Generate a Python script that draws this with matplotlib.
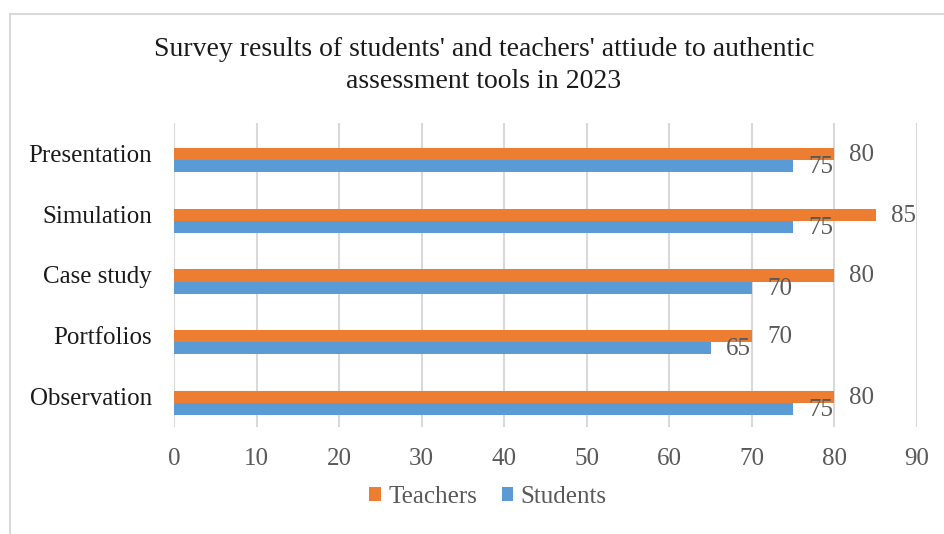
import matplotlib
matplotlib.use("Agg")
import matplotlib.pyplot as plt
import numpy as np
from matplotlib.patches import Rectangle

# data, listed bottom to top as in the chart
categories = ["Observation", "Portfolios", "Case study", "Simulation", "Presentation"]
teachers = [80, 70, 80, 85, 80]
students = [75, 65, 70, 75, 75]
x_ticks = [0, 10, 20, 30, 40, 50, 60, 70, 80, 90]

ORANGE = "#ED7D31"
BLUE = "#5B9BD5"
GREY_TXT = "#595959"
GRID = "#D9D9D9"

plt.rcParams["font.family"] = ["Liberation Serif", "DejaVu Serif"]

W, H = 944, 534
fig = plt.figure(figsize=(W / 100, H / 100), dpi=100)

# chart frame (runs off the right and bottom edges like the source)
fig.patches.append(Rectangle((10 / W, -0.2), 1.2, 1.2 - 14 / H, transform=fig.transFigure,
                             fill=False, edgecolor=GRID, linewidth=1.5))

ax = fig.add_axes([174 / W, 1 - 427 / H, (917 - 174) / W, (427 - 123) / H])

y = np.arange(len(categories))
bh = 0.2
shift = -0.107  # bars sit a bit below the category centre in the source
ax.barh(y + shift + bh / 2, teachers, height=bh, color=ORANGE, label="Teachers", zorder=3)
ax.barh(y + shift - bh / 2, students, height=bh, color=BLUE, label="Students", zorder=3)

for yi, v in zip(y, teachers):
    ax.annotate(str(v), (v, yi + shift + bh / 2), xytext=(15, -1), textcoords="offset pixels",
                ha="left", va="center", fontsize=18, color=GREY_TXT)
for yi, v in zip(y, students):
    ax.annotate(str(v), (v, yi + shift - bh / 2), xytext=(15, -1), textcoords="offset pixels",
                ha="left", va="center", fontsize=18, color=GREY_TXT)

ax.set_xlim(0, 90)
ax.set_ylim(-0.5, len(categories) - 0.5)
ax.set_xticks(x_ticks)
ax.set_yticks(y)
ax.set_yticklabels(categories)
ax.tick_params(axis="x", length=0, pad=15, labelsize=18, labelcolor=GREY_TXT)
ax.tick_params(axis="y", length=0, pad=16, labelsize=18, labelcolor="#1a1a1a")
ax.grid(axis="x", color=GRID, linewidth=1.5, zorder=0)
for s in ax.spines.values():
    s.set_visible(False)

fig.text(484 / W, 1 - 49 / H, "Survey results of students' and teachers' attiude to authentic",
         ha="center", va="center", fontsize=20, color="#1a1a1a")
fig.text(484 / W, 1 - 82 / H, "assessment tools in 2023",
         ha="center", va="center", fontsize=20, color="#1a1a1a")

fig.legend(loc="center", bbox_to_anchor=(488 / W, 1 - 497 / H), ncol=2, frameon=False,
           fontsize=18, labelcolor=GREY_TXT, handlelength=0.45, handleheight=0.45,
           handletextpad=0.3, columnspacing=1.0)

fig.savefig("out.png", dpi=100)
